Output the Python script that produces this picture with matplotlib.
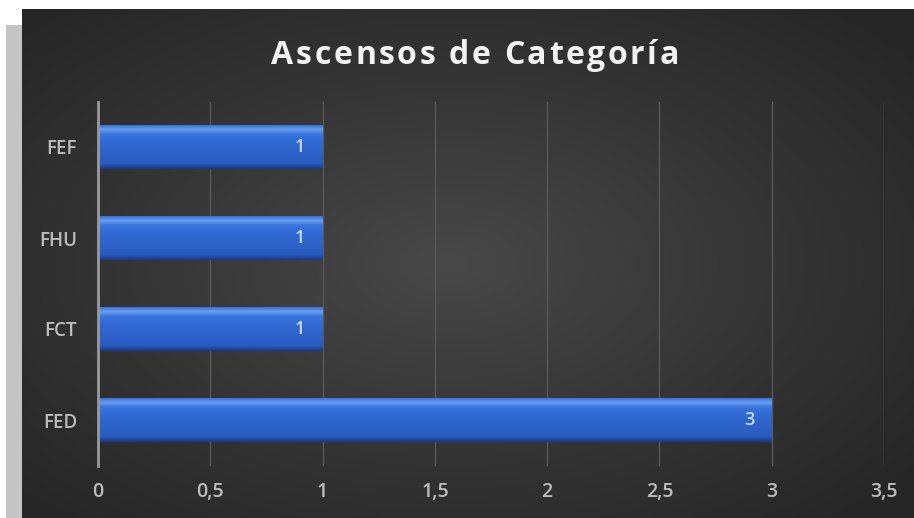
import numpy as np
import matplotlib
matplotlib.use("Agg")
import matplotlib.pyplot as plt
from matplotlib.colors import LinearSegmentedColormap
from matplotlib.textpath import TextPath
from matplotlib.font_manager import FontProperties

categories = ["FED", "FCT", "FHU", "FEF"]
values = [3, 1, 1, 1]
xticks = [0, 0.5, 1, 1.5, 2, 2.5, 3, 3.5]
xticklabels = ["0", "0,5", "1", "1,5", "2", "2,5", "3", "3,5"]
title = "Ascensos de Categoría"

W, H = 914, 518
fig = plt.figure(figsize=(W / 100, H / 100), dpi=100)
fig.patch.set_facecolor("white")

# gray strip on left
strip = fig.add_axes([6 / W, 0, 16 / W, 1 - 25 / H])
strip.set_facecolor("#c4c4c4")
strip.set_xticks([]); strip.set_yticks([])
for s in strip.spines.values():
    s.set_visible(False)

# dark chart area with radial gradient
bg = fig.add_axes([22 / W, 0, 1 - 22 / W, 1 - 9 / H])
yy, xx = np.mgrid[0:1:300j, 0:1:600j]
r = np.sqrt(((xx - 0.48) / 0.75) ** 2 + ((yy - 0.5) / 0.75) ** 2)
cmap_bg = LinearSegmentedColormap.from_list("bg", ["#484848", "#363636", "#262626"])
bg.imshow(r, cmap=cmap_bg, aspect="auto", extent=[0, 1, 0, 1], vmin=0, vmax=0.9)
bg.set_axis_off()

ax = fig.add_axes([98 / W, 1 - 465.5 / H, (884 - 98) / W, (465.5 - 101.5) / H])
ax.patch.set_alpha(0)
ypos = np.arange(len(categories))
bars = ax.barh(ypos, values, height=0.48, color="#2e62c9", zorder=3)

# gradient overlay on bars
cmap_bar = LinearSegmentedColormap.from_list(
    "bar", [(0, "#1a3a85"), (0.12, "#2a5bbf"), (0.6, "#3069d3"), (0.8, "#3a76e0"), (0.9, "#6a9ff0"), (1, "#3b72d8")])
grad = np.linspace(0, 1, 100).reshape(-1, 1)
for b in bars:
    x0, y0 = b.get_x(), b.get_y()
    w, h = b.get_width(), b.get_height()
    im = ax.imshow(grad, cmap=cmap_bar, aspect="auto", origin="lower",
                   extent=[x0, x0 + w, y0, y0 + h], zorder=4)
    im.set_clip_path(b)

for y, v in zip(ypos, values):
    ax.text(v - 0.1, y, str(v), ha="center", va="center", color="#c9d6f0",
            fontsize=13, family="Open Sans", fontweight="semibold", zorder=5)

ax.set_xlim(0, 3.5)
ax.set_ylim(-0.5, len(categories) - 0.5)
ax.set_xticks(xticks)
ax.set_xticklabels(xticklabels, color="#bdbdbd", fontsize=14, family="Open Sans", fontweight="semibold")
ax.set_yticks(ypos)
ax.set_yticklabels(categories, color="#bdbdbd", fontsize=13.5, family="Open Sans", fontweight="semibold")
ax.tick_params(axis="both", length=0)
ax.tick_params(axis="x", pad=12)
ax.tick_params(axis="y", pad=15)
ax.grid(axis="x", color="#585858", linewidth=1, zorder=1)
for k in ["top", "right", "bottom"]:
    ax.spines[k].set_visible(False)
ax.spines["left"].set_color("#9a9a9a")
ax.spines["left"].set_linewidth(2)
ax.spines["left"].set_zorder(6)

# title with letter spacing
fsize = 23
fp = FontProperties(family="Open Sans", weight="bold", size=fsize)
size_px = fsize * 100 / 72
spacing = 2.6
w0 = TextPath((0, 0), "||", prop=fp, size=size_px).get_extents().width
widths = []
for ch in title:
    if ch == " ":
        widths.append(size_px * 0.26)
    else:
        w1 = TextPath((0, 0), "|" + ch + "|", prop=fp, size=size_px).get_extents().width
        widths.append(w1 - w0)
total = sum(widths) + spacing * (len(title) - 1)
xc = 475
x = xc - total / 2
for ch, w in zip(title, widths):
    if ch != " ":
        fig.text(x / W, 1 - 52 / H, ch, ha="left", va="center_baseline", color="#f2f2f2",
                 fontproperties=fp)
    x += w + spacing

fig.savefig("out.png", dpi=100, facecolor=fig.get_facecolor())
